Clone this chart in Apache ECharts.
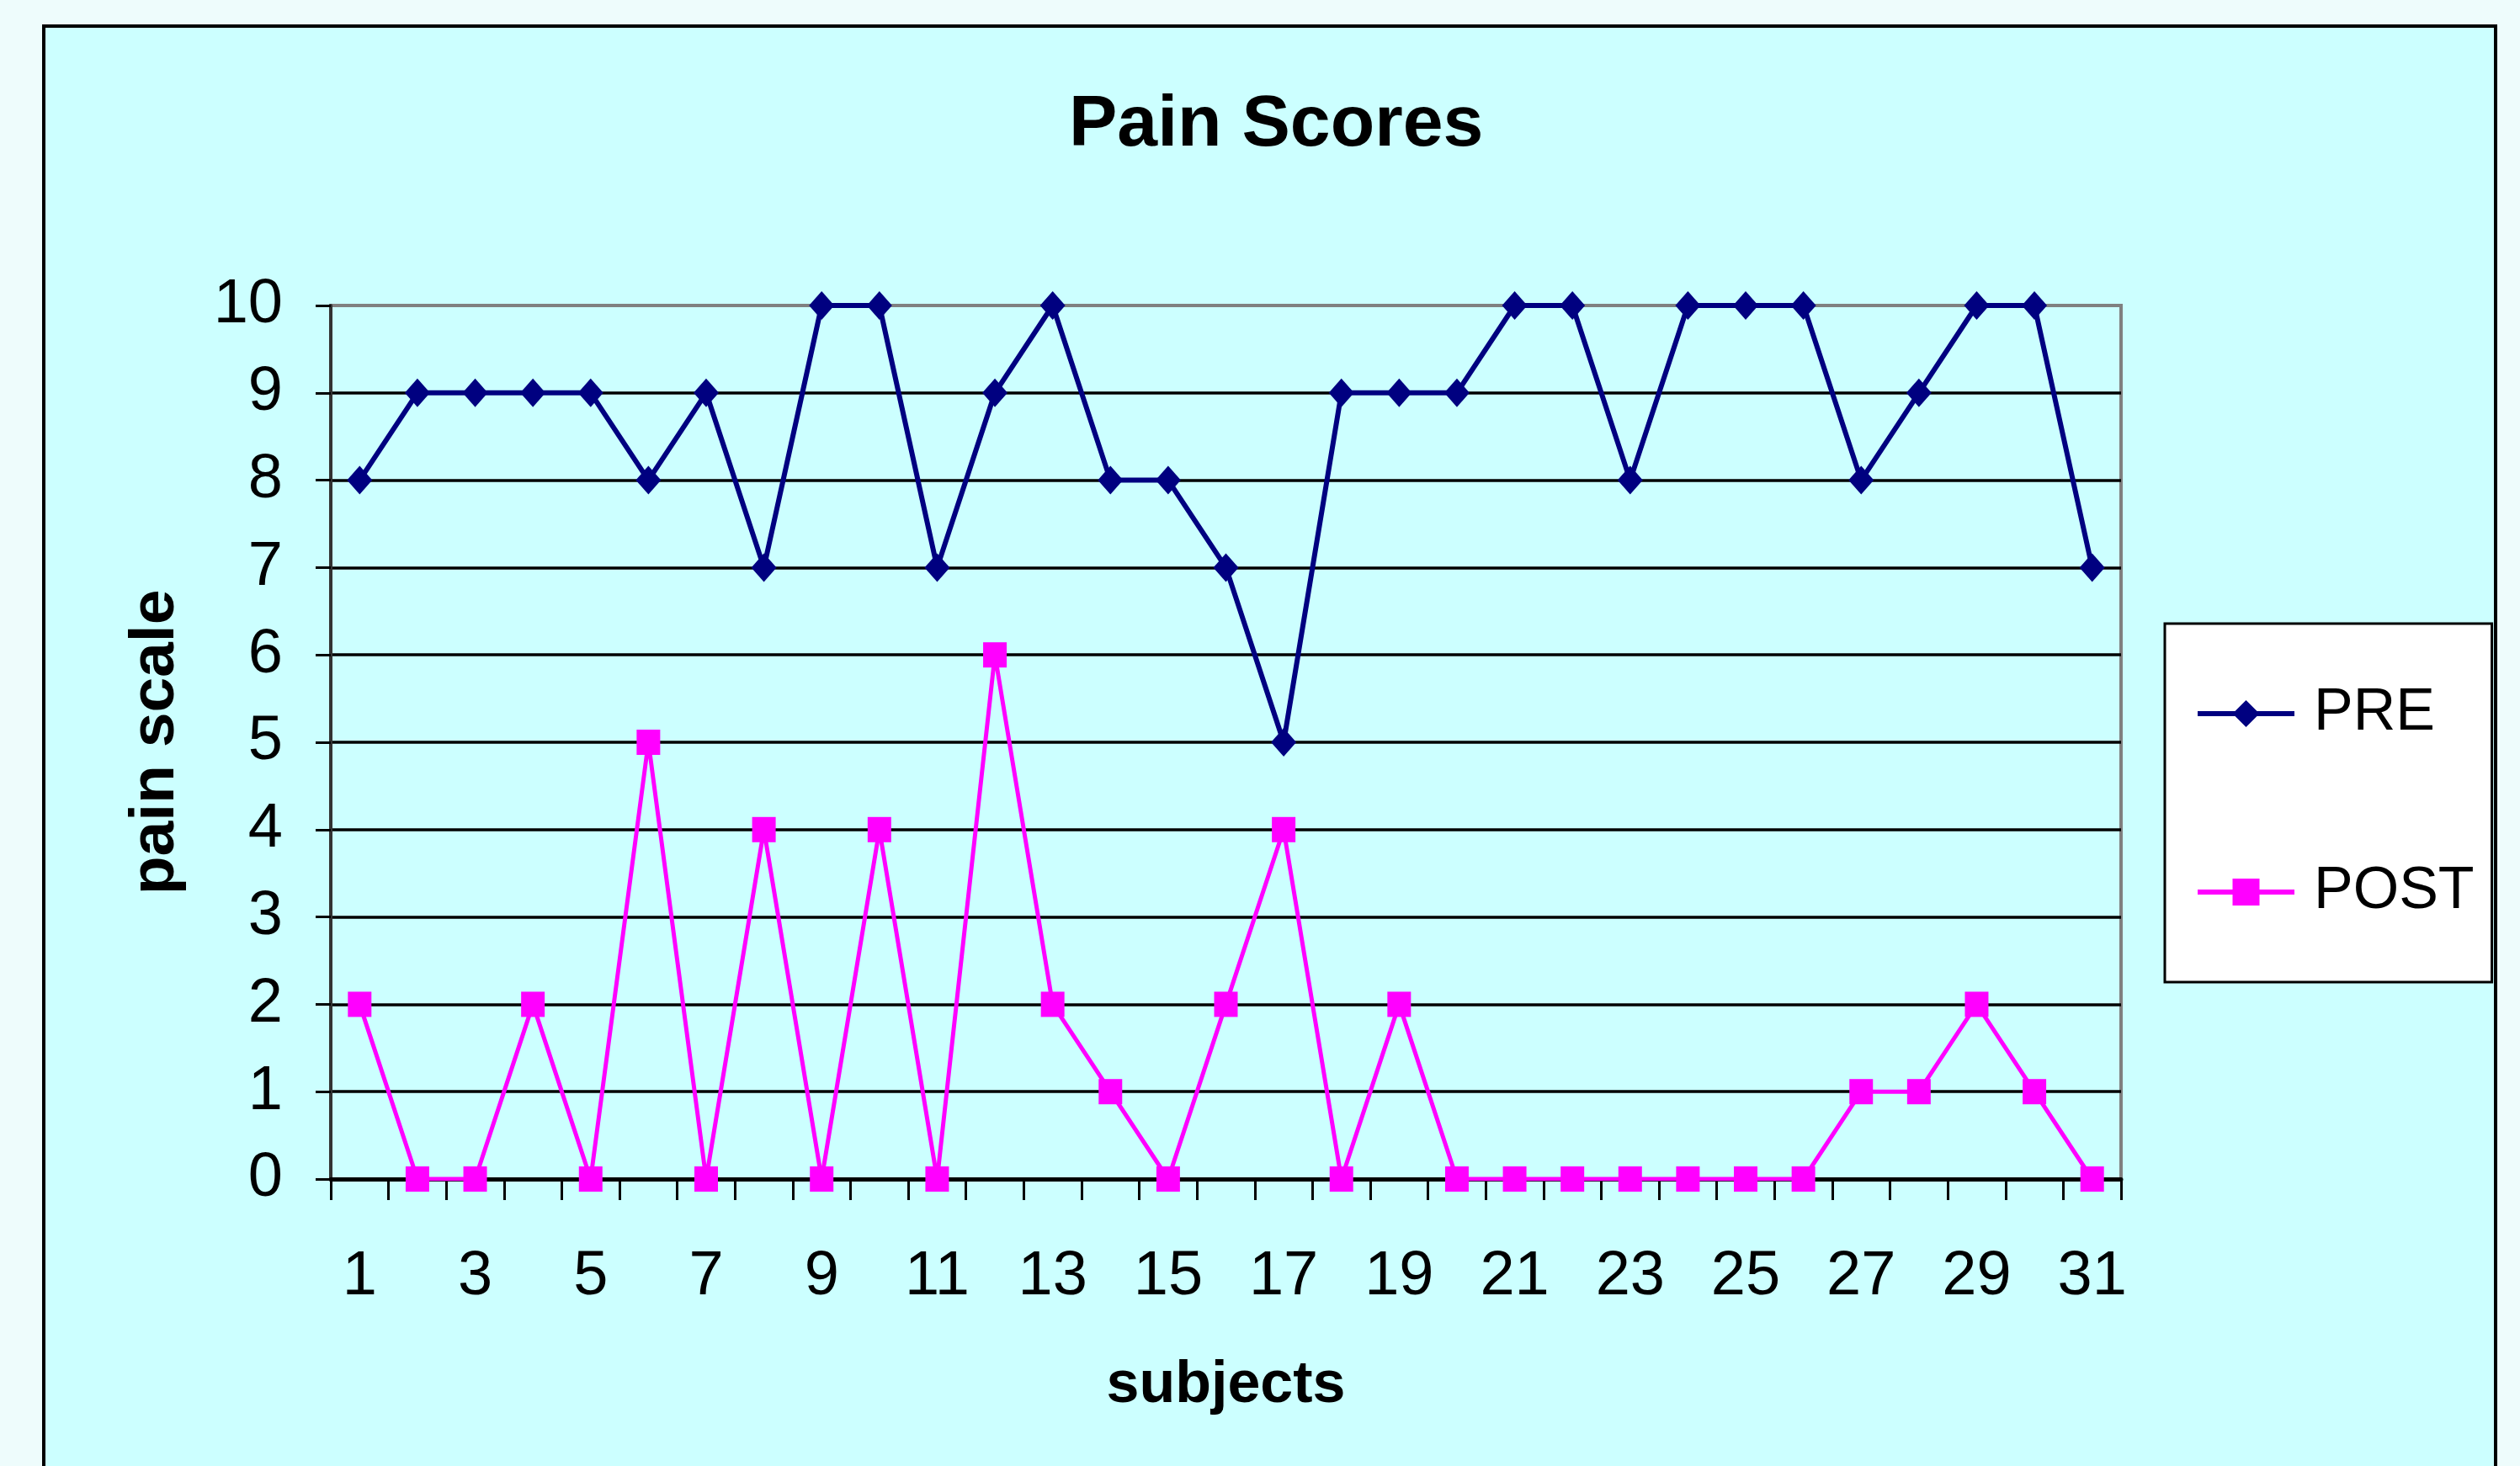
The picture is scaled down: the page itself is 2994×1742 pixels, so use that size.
<!DOCTYPE html>
<html>
<head>
<meta charset="utf-8">
<title>Pain Scores</title>
<script src="https://cdn.jsdelivr.net/npm/echarts@6/dist/echarts.min.js"></script>
<style>
  html, body { margin: 0; padding: 0; background: #eefcfc; }
  #main { width: 2994px; height: 1742px; }
</style>
</head>
<body>
<div id="main"></div>
<script>
// subjects 1..31
var subjects = [];
for (var i = 1; i <= 31; i++) subjects.push(String(i));

var preScores = [8, 9, 9, 9, 9, 8, 9, 7, 10, 10, 7, 9, 10, 8, 8, 7, 5, 9, 9, 9, 10, 10, 8, 10, 10, 10, 8, 9, 10, 10, 7];
var postScores = [2, 0, 0, 2, 0, 5, 0, 4, 0, 4, 0, 6, 2, 1, 0, 2, 4, 0, 2, 0, 0, 0, 0, 0, 0, 0, 1, 1, 2, 1, 0];

var FONT = "Liberation Sans, Arial, sans-serif";

var myChart = echarts.init(document.getElementById("main"));
var option;

option = {
  backgroundColor: "#eefcfc",
  animation: false,
  // the light blue chart panel with its black frame
  graphic: [
    {
      type: "rect",
      z: -10,
      shape: { x: 52, y: 31, width: 2913, height: 1800 },
      style: { fill: "#ccffff", stroke: "#000", lineWidth: 4 },
    },
  ],
  title: {
    text: "Pain Scores",
    left: 1270,
    top: 106,
    padding: 0,
    textStyle: {
      fontFamily: FONT,
      fontWeight: "bold",
      fontSize: 86,
      color: "#000",
    },
  },
  legend: {
    orient: "vertical",
    left: 2572,
    top: 741,
    padding: [72, 21, 72, 36],
    itemGap: 142,
    itemWidth: 115,
    itemHeight: 40,
    backgroundColor: "#fff",
    borderColor: "#000",
    borderWidth: 3,
    lineStyle: { width: 6 },
    textStyle: {
      fontFamily: FONT,
      fontSize: 70,
      color: "#000",
      padding: [0, 0, 0, 18],
    },
    data: ["PRE", "POST"],
  },
  grid: {
    left: 393,
    top: 363,
    right: 474,
    bottom: 341,
    show: true,
    borderColor: "#808080",
    borderWidth: 4,
    backgroundColor: "transparent",
  },
  xAxis: {
    type: "category",
    data: subjects,
    boundaryGap: true,
    name: "subjects",
    nameLocation: "middle",
    nameGap: 211,
    nameTextStyle: {
      fontFamily: FONT,
      fontWeight: "bold",
      fontSize: 70,
      color: "#000",
    },
    axisLine: { lineStyle: { color: "#000", width: 5 } },
    axisTick: {
      show: true,
      interval: 0,
      alignWithLabel: false,
      length: 25,
      lineStyle: { color: "#000", width: 3 },
    },
    axisLabel: {
      interval: 1,
      margin: 80,
      fontFamily: FONT,
      fontSize: 74,
      color: "#000",
    },
    splitLine: { show: false },
  },
  yAxis: {
    type: "value",
    min: 0,
    max: 10,
    interval: 1,
    name: "pain scale",
    nameLocation: "middle",
    nameGap: 170,
    nameRotate: 90,
    nameTextStyle: {
      fontFamily: FONT,
      fontWeight: "bold",
      fontSize: 75,
      color: "#000",
    },
    axisLine: { show: true, lineStyle: { color: "#333", width: 4 } },
    axisTick: {
      show: true,
      length: 18,
      lineStyle: { color: "#000", width: 3 },
    },
    axisLabel: {
      margin: 57,
      fontFamily: FONT,
      fontSize: 74,
      color: "#000",
    },
    splitLine: {
      show: true,
      showMinLine: false,
      showMaxLine: false,
      lineStyle: { color: "#000", width: 3.5 },
    },
  },
  series: [
    {
      name: "PRE",
      type: "line",
      data: preScores,
      symbol: "diamond",
      symbolSize: [30, 34],
      color: "#000080",
      lineStyle: { color: "#000080", width: 6 },
      itemStyle: { color: "#000080" },
    },
    {
      name: "POST",
      type: "line",
      data: postScores,
      symbol: "rect",
      symbolSize: [28, 30],
      color: "#ff00ff",
      lineStyle: { color: "#ff00ff", width: 5 },
      itemStyle: { color: "#ff00ff" },
    },
  ],
};

option && myChart.setOption(option);
</script>
</body>
</html>
